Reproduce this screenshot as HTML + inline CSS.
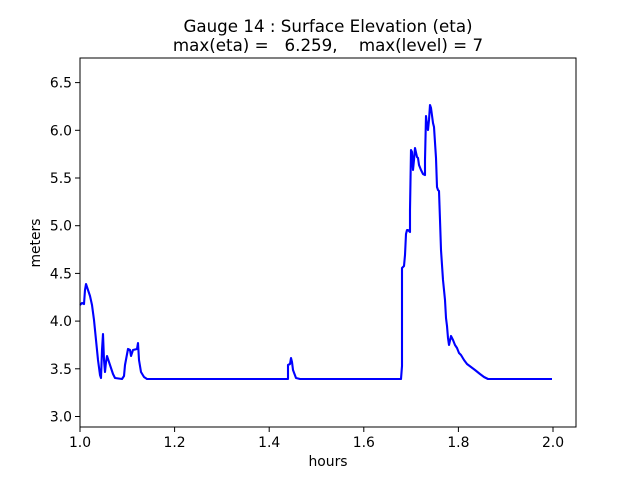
<!DOCTYPE html>
<html><head><meta charset="utf-8"><style>
html,body{margin:0;padding:0;background:#fff;width:640px;height:480px;overflow:hidden}
text{font-family:"DejaVu Sans","Liberation Sans",sans-serif;fill:#000}
</style></head><body>
<svg width="640" height="480" viewBox="0 0 640 480" xmlns="http://www.w3.org/2000/svg">
<rect width="640" height="480" fill="#fff"/>
<polyline fill="none" stroke="#0000ff" stroke-width="2.1" stroke-linejoin="round" points="80,305 82,303 84,304 85,290 86,284 88,290 90,296 92,305 94,320 96,340 98,360 100,375 101,378 102,350 103,334 104,360 105,372 106,362 107,356 109,362 111,368 113,374 115,378 122,379 124,376 125,365 128,349 130,350 131,356 133,350 137,349 138,343 139,360 141,372 144,377 147,379 288,379 288,365 290,364 291,358 292,362 293,370 296,378 300,379 401,379 402,366 402,268 403,267 404,266 405,255 406,234 407,230 408,230 410,232 410,210 411,150 412,152 413,170 414,160 415,148 417,157 418,158 419,165 421,170 423,174 425,175 425,160 426,116 427,125 428,130 429,120 430,105 431,108 433,123 434,127 436,158 437,187 438,190 439,191 440,220 441,250 443,280 445,300 446,318 447,326 448,338 449,345 451,336 453,340 455,345 457,348 459,353 461,355 464,360 467,364 471,367 475,370 480,374 484,377 488,379 552,379"/>
<rect x="80" y="58" width="496" height="369" fill="none" stroke="#000" stroke-width="1"/>
<g stroke="#000" stroke-width="1">
<line x1="80" y1="427" x2="80" y2="432"/><line x1="174.6" y1="427" x2="174.6" y2="432"/><line x1="269.2" y1="427" x2="269.2" y2="432"/><line x1="363.8" y1="427" x2="363.8" y2="432"/><line x1="458.4" y1="427" x2="458.4" y2="432"/><line x1="553" y1="427" x2="553" y2="432"/>
<line x1="75" y1="416.5" x2="80" y2="416.5"/><line x1="75" y1="368.8" x2="80" y2="368.8"/><line x1="75" y1="321.1" x2="80" y2="321.1"/><line x1="75" y1="273.4" x2="80" y2="273.4"/><line x1="75" y1="225.7" x2="80" y2="225.7"/><line x1="75" y1="178" x2="80" y2="178"/><line x1="75" y1="130.3" x2="80" y2="130.3"/><line x1="75" y1="82.6" x2="80" y2="82.6"/>
</g>
<g font-size="13.9" text-anchor="middle">
<text x="80" y="447">1.0</text><text x="174.6" y="447">1.2</text><text x="269.2" y="447">1.4</text><text x="363.8" y="447">1.6</text><text x="458.4" y="447">1.8</text><text x="553" y="447">2.0</text>
</g>
<g font-size="13.9" text-anchor="end">
<text x="72" y="421.5">3.0</text><text x="72" y="373.8">3.5</text><text x="72" y="326.1">4.0</text><text x="72" y="278.4">4.5</text><text x="72" y="230.7">5.0</text><text x="72" y="183">5.5</text><text x="72" y="135.3">6.0</text><text x="72" y="87.6">6.5</text>
</g>
<text x="328" y="466" font-size="13.9" text-anchor="middle">hours</text>
<text transform="translate(40,243) rotate(-90)" font-size="13.9" text-anchor="middle">meters</text>
<text x="328" y="32" font-size="16.7" text-anchor="middle">Gauge 14 : Surface Elevation (eta)</text>
<text x="328" y="51" font-size="16.7" text-anchor="middle" xml:space="preserve">max(eta) =   6.259,    max(level) = 7</text>
</svg>
</body></html>
